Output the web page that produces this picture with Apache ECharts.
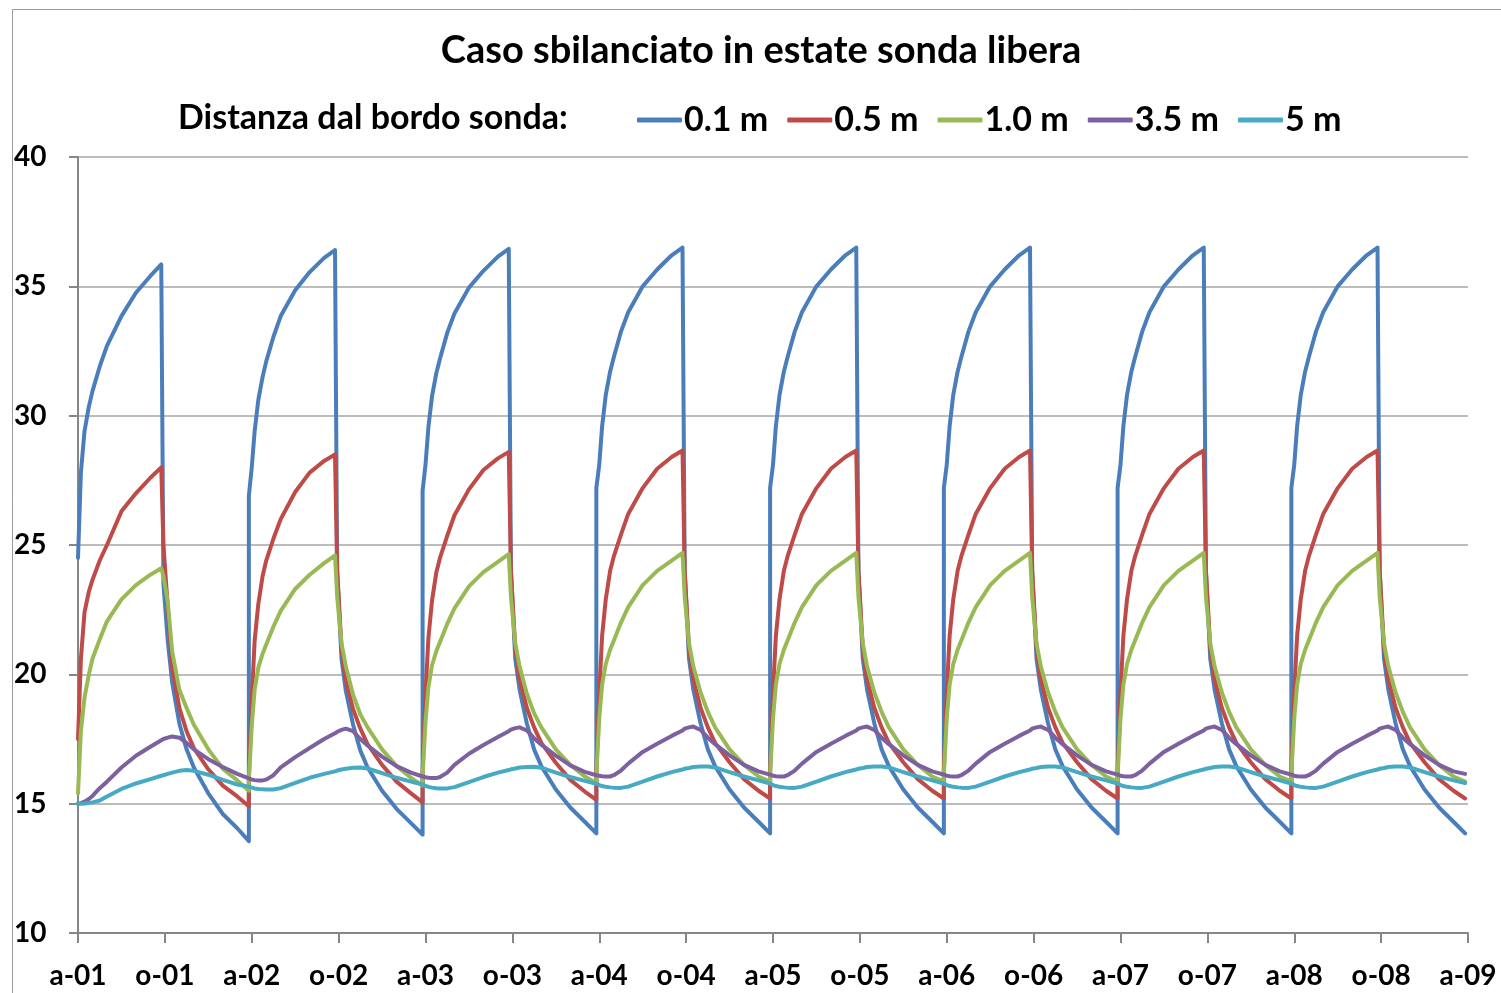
<!DOCTYPE html>
<html>
<head>
<meta charset="utf-8">
<script src="https://cdn.jsdelivr.net/npm/echarts@6/dist/echarts.min.js"></script>
<style>
html,body{margin:0;padding:0;background:#fff;}
#chart{width:1501px;height:993px;}
</style>
</head>
<body>
<div id="chart"></div>
<script>
// ---- DATA ----
const chartTitle = 'Caso sbilanciato in estate sonda libera';
const legendTitle = 'Distanza dal bordo sonda:';
const seriesNames = ['0.1 m', '0.5 m', '1.0 m', '3.5 m', '5 m'];
const tickLabels = ['a-01','o-01','a-02','o-02','a-03','o-03','a-04','o-04','a-05','o-05','a-06','o-06','a-07','o-07','a-08','o-08','a-09'];

// sample times (months after a-01) within each yearly cycle
const firstCycleOffsets = [0, 0.2, 0.45, 0.75, 1, 1.5, 2, 3, 4, 5, 5.75, 5.9, 6.2, 6.5, 7, 7.5, 8, 9, 10, 11, 11.8];
const cycleOffsets = [-0.2, 0, 0.2, 0.45, 0.75, 1, 1.5, 2, 3, 4, 5, 5.75, 5.9, 6.2, 6.5, 7, 7.5, 8, 9, 10, 11, 11.8];
const cycleCount = 8;

const temp01 = [
  24.5, 27.8, 29.4, 30.35, 30.95, 31.9, 32.7, 33.85, 34.75, 35.4, 35.85, 23.5, 21.3, 19.7, 18.1, 17.1, 16.4, 15.4, 14.6, 14.05, 13.55,
  26.9, 28.0, 29.4, 30.6, 31.5, 32.1, 33.05, 33.85, 34.85, 35.55, 36.1, 36.4, 24.0, 20.6, 19.35, 18.05, 17.05, 16.4, 15.5, 14.8, 14.25, 13.8,
  27.1, 28.1, 29.55, 30.75, 31.65, 32.2, 33.2, 33.95, 34.95, 35.6, 36.15, 36.45, 24.0, 20.6, 19.4, 18.1, 17.1, 16.45, 15.55, 14.85, 14.3, 13.85,
  27.2, 28.1, 29.6, 30.8, 31.7, 32.25, 33.25, 34.0, 35.0, 35.65, 36.2, 36.5, 24.0, 20.6, 19.4, 18.1, 17.1, 16.45, 15.55, 14.85, 14.3, 13.85,
  27.2, 28.1, 29.6, 30.8, 31.7, 32.25, 33.25, 34.0, 35.0, 35.65, 36.2, 36.5, 24.0, 20.6, 19.4, 18.1, 17.1, 16.45, 15.55, 14.85, 14.3, 13.85,
  27.2, 28.1, 29.6, 30.8, 31.7, 32.25, 33.25, 34.0, 35.0, 35.65, 36.2, 36.5, 24.0, 20.6, 19.4, 18.1, 17.1, 16.45, 15.55, 14.85, 14.3, 13.85,
  27.2, 28.1, 29.6, 30.8, 31.7, 32.25, 33.25, 34.0, 35.0, 35.65, 36.2, 36.5, 24.0, 20.6, 19.4, 18.1, 17.1, 16.45, 15.55, 14.85, 14.3, 13.85,
  27.2, 28.1, 29.6, 30.8, 31.7, 32.25, 33.25, 34.0, 35.0, 35.65, 36.2, 36.5, 24.0, 20.6, 19.4, 18.1, 17.1, 16.45, 15.55, 14.85, 14.3, 13.85
];
const temp05 = [
  17.5, 20.6, 22.4, 23.2, 23.65, 24.4, 25.0, 26.3, 27.0, 27.6, 28.0, 25.0, 22.6, 20.3, 18.7, 17.8, 17.15, 16.33, 15.7, 15.28, 14.9,
  16.0, 19.0, 21.3, 22.7, 23.8, 24.4, 25.25, 26.0, 27.05, 27.8, 28.25, 28.5, 24.0, 21.0, 19.75, 18.65, 17.9, 17.3, 16.5, 15.85, 15.4, 15.05,
  16.2, 19.2, 21.4, 22.85, 23.95, 24.5, 25.35, 26.15, 27.15, 27.9, 28.35, 28.6, 24.0, 21.0, 19.8, 18.7, 17.95, 17.35, 16.58, 15.92, 15.47, 15.15,
  16.3, 19.3, 21.5, 22.9, 24.0, 24.55, 25.4, 26.2, 27.2, 27.95, 28.4, 28.65, 24.0, 21.0, 19.8, 18.7, 17.95, 17.35, 16.6, 15.95, 15.5, 15.2,
  16.3, 19.3, 21.5, 22.9, 24.0, 24.55, 25.4, 26.2, 27.2, 27.95, 28.4, 28.65, 24.0, 21.0, 19.8, 18.7, 17.95, 17.35, 16.6, 15.95, 15.5, 15.2,
  16.3, 19.3, 21.5, 22.9, 24.0, 24.55, 25.4, 26.2, 27.2, 27.95, 28.4, 28.65, 24.0, 21.0, 19.8, 18.7, 17.95, 17.35, 16.6, 15.95, 15.5, 15.2,
  16.3, 19.3, 21.5, 22.9, 24.0, 24.55, 25.4, 26.2, 27.2, 27.95, 28.4, 28.65, 24.0, 21.0, 19.8, 18.7, 17.95, 17.35, 16.6, 15.95, 15.5, 15.2,
  16.3, 19.3, 21.5, 22.9, 24.0, 24.55, 25.4, 26.2, 27.2, 27.95, 28.4, 28.65, 24.0, 21.0, 19.8, 18.7, 17.95, 17.35, 16.6, 15.95, 15.5, 15.2
];
const temp10 = [
  15.4, 17.8, 19.1, 20.0, 20.6, 21.35, 22.05, 22.9, 23.45, 23.85, 24.1, 23.8, 22.8, 20.9, 19.4, 18.7, 18.05, 17.1, 16.35, 15.9, 15.5,
  15.9, 18.0, 19.4, 20.25, 20.8, 21.15, 21.85, 22.45, 23.3, 23.85, 24.3, 24.6, 23.0, 21.2, 20.3, 19.2, 18.45, 17.95, 17.1, 16.45, 16.0, 15.7,
  16.05, 18.15, 19.5, 20.35, 20.9, 21.25, 21.95, 22.55, 23.4, 23.95, 24.35, 24.65, 23.0, 21.2, 20.3, 19.25, 18.5, 17.95, 17.1, 16.5, 16.05, 15.8,
  16.1, 18.3, 19.6, 20.4, 20.95, 21.3, 22.0, 22.6, 23.45, 24.0, 24.4, 24.7, 23.0, 21.2, 20.3, 19.3, 18.55, 17.95, 17.1, 16.5, 16.05, 15.85,
  16.1, 18.3, 19.6, 20.4, 20.95, 21.3, 22.0, 22.6, 23.45, 24.0, 24.4, 24.7, 23.0, 21.2, 20.3, 19.3, 18.55, 17.95, 17.1, 16.5, 16.05, 15.85,
  16.1, 18.3, 19.6, 20.4, 20.95, 21.3, 22.0, 22.6, 23.45, 24.0, 24.4, 24.7, 23.0, 21.2, 20.3, 19.3, 18.55, 17.95, 17.1, 16.5, 16.05, 15.85,
  16.1, 18.3, 19.6, 20.4, 20.95, 21.3, 22.0, 22.6, 23.45, 24.0, 24.4, 24.7, 23.0, 21.2, 20.3, 19.3, 18.55, 17.95, 17.1, 16.5, 16.05, 15.85,
  16.1, 18.3, 19.6, 20.4, 20.95, 21.3, 22.0, 22.6, 23.45, 24.0, 24.4, 24.7, 23.0, 21.2, 20.3, 19.3, 18.55, 17.95, 17.1, 16.5, 16.05, 15.85
];
const temp35 = [
  15.0, 15.02, 15.08, 15.18, 15.3, 15.6, 15.85, 16.4, 16.85, 17.2, 17.45, 17.5, 17.55, 17.6, 17.55, 17.35, 17.1, 16.72, 16.42, 16.15, 15.98,
  15.98, 15.93, 15.91, 15.9, 15.9, 15.93, 16.1, 16.4, 16.8, 17.15, 17.5, 17.72, 17.78, 17.85, 17.9, 17.8, 17.5, 17.25, 16.82, 16.45, 16.2, 16.05,
  16.05, 16.02, 16.0, 15.99, 15.99, 16.03, 16.2, 16.5, 16.93, 17.27, 17.58, 17.8, 17.86, 17.92, 17.95, 17.83, 17.53, 17.28, 16.86, 16.48, 16.23, 16.1,
  16.1, 16.08, 16.06, 16.05, 16.05, 16.1, 16.28, 16.55, 17.0, 17.32, 17.62, 17.83, 17.9, 17.95, 17.98, 17.85, 17.55, 17.3, 16.87, 16.5, 16.25, 16.12,
  16.12, 16.08, 16.06, 16.05, 16.05, 16.1, 16.28, 16.55, 17.0, 17.32, 17.62, 17.83, 17.9, 17.95, 17.98, 17.85, 17.55, 17.3, 16.87, 16.5, 16.25, 16.12,
  16.12, 16.08, 16.06, 16.05, 16.05, 16.1, 16.28, 16.55, 17.0, 17.32, 17.62, 17.83, 17.9, 17.95, 17.98, 17.85, 17.55, 17.3, 16.87, 16.5, 16.25, 16.12,
  16.12, 16.08, 16.06, 16.05, 16.05, 16.1, 16.28, 16.55, 17.0, 17.32, 17.62, 17.83, 17.9, 17.95, 17.98, 17.85, 17.55, 17.3, 16.87, 16.5, 16.25, 16.12,
  16.12, 16.08, 16.06, 16.05, 16.05, 16.1, 16.28, 16.55, 17.0, 17.32, 17.62, 17.83, 17.9, 17.95, 17.98, 17.85, 17.55, 17.3, 16.87, 16.5, 16.25, 16.15
];
const temp50 = [
  15.0, 15.0, 15.01, 15.03, 15.05, 15.12, 15.28, 15.57, 15.78, 15.95, 16.08, 16.1, 16.15, 16.2, 16.27, 16.3, 16.27, 16.12, 15.92, 15.74, 15.66,
  15.66, 15.62, 15.59, 15.57, 15.56, 15.55, 15.55, 15.6, 15.8, 16.0, 16.15, 16.25, 16.28, 16.32, 16.35, 16.39, 16.4, 16.36, 16.18, 16.0, 15.85, 15.74,
  15.74, 15.69, 15.65, 15.62, 15.6, 15.59, 15.59, 15.64, 15.83, 16.03, 16.2, 16.3, 16.33, 16.36, 16.4, 16.42, 16.43, 16.39, 16.2, 16.03, 15.88, 15.77,
  15.77, 15.72, 15.68, 15.65, 15.63, 15.62, 15.61, 15.66, 15.85, 16.05, 16.22, 16.32, 16.35, 16.38, 16.42, 16.44, 16.44, 16.4, 16.22, 16.05, 15.9, 15.78,
  15.78, 15.72, 15.68, 15.65, 15.63, 15.62, 15.61, 15.66, 15.85, 16.05, 16.22, 16.32, 16.35, 16.38, 16.42, 16.44, 16.44, 16.4, 16.22, 16.05, 15.9, 15.78,
  15.78, 15.72, 15.68, 15.65, 15.63, 15.62, 15.61, 15.66, 15.85, 16.05, 16.22, 16.32, 16.35, 16.38, 16.42, 16.44, 16.44, 16.4, 16.22, 16.05, 15.9, 15.78,
  15.78, 15.72, 15.68, 15.65, 15.63, 15.62, 15.61, 15.66, 15.85, 16.05, 16.22, 16.32, 16.35, 16.38, 16.42, 16.44, 16.44, 16.4, 16.22, 16.05, 15.9, 15.78,
  15.78, 15.72, 15.68, 15.65, 15.63, 15.62, 15.61, 15.66, 15.85, 16.05, 16.22, 16.32, 16.35, 16.38, 16.42, 16.44, 16.44, 16.4, 16.22, 16.05, 15.9, 15.8
];
const seriesColors = ['#4A7EBB', '#BE4B48', '#98B954', '#7D60A0', '#46AAC5'];

// ---- build x (months) ----
const sampleMonths = [];
for (let k = 0; k < cycleCount; k++) {
  const offs = k === 0 ? firstCycleOffsets : cycleOffsets;
  offs.forEach(o => sampleMonths.push(+(12 * k + o).toFixed(2)));
}
const allValues = [temp01, temp05, temp10, temp35, temp50];

const FONT = 'Lato';
const chart = echarts.init(document.getElementById('chart'), null, {renderer: 'canvas'});
const option = {
  animation: false,
  backgroundColor: '#ffffff',
  grid: {left: 78, right: 33, top: 157, bottom: 60, containLabel: false},
  graphic: [
    {type: 'rect', silent: true, shape: {x: 12.5, y: 9.5, width: 1600, height: 1100},
     style: {fill: 'none', stroke: '#9a9a9a', lineWidth: 1}},
    {type: 'text', x: 761, y: 51, style: {text: chartTitle, fontFamily: FONT, fontWeight: 'bold', fontSize: 38,
     fill: '#000', align: 'center', verticalAlign: 'middle'}},
    {type: 'text', x: 178, y: 118, style: {text: legendTitle, fontFamily: FONT, fontWeight: 'bold', fontSize: 34,
     fill: '#000', align: 'left', verticalAlign: 'middle'}}
  ],
  legend: {
    left: 632, top: 98,
    icon: 'roundRect', itemWidth: 45, itemHeight: 5, itemGap: 19,
    textStyle: {fontFamily: FONT, fontWeight: 'bold', fontSize: 34, color: '#000', padding: [0, 0, 0, -3]},
    data: seriesNames
  },
  xAxis: {
    type: 'value', min: 0, max: 96, interval: 6,
    axisLine: {show: true, lineStyle: {color: '#868686', width: 2}},
    axisTick: {show: true, length: 10, inside: false, lineStyle: {color: '#868686', width: 2}},
    axisLabel: {margin: 29, fontFamily: FONT, fontWeight: 'bold', fontSize: 28, color: '#000',
      formatter: v => tickLabels[Math.round(v / 6)] || ''},
    splitLine: {show: false}
  },
  yAxis: {
    type: 'value', min: 10, max: 40, interval: 5,
    axisLine: {show: true, lineStyle: {color: '#868686', width: 2}},
    axisTick: {show: true, length: 9, lineStyle: {color: '#868686', width: 2}},
    axisLabel: {align: 'left', margin: 64, fontFamily: FONT, fontWeight: 'bold', fontSize: 28, color: '#000'},
    splitLine: {show: true, lineStyle: {color: '#a6a6a6', width: 1.5}}
  },
  series: seriesNames.map((name, i) => ({
    name: name,
    type: 'line',
    showSymbol: false,
    symbol: 'none',
    smooth: false,
    color: seriesColors[i],
    lineStyle: {width: 4, color: seriesColors[i], cap: 'round', join: 'round'},
    data: sampleMonths.map((m, j) => [m, allValues[i][j]])
  }))
};
chart.setOption(option);
</script>
</body>
</html>
